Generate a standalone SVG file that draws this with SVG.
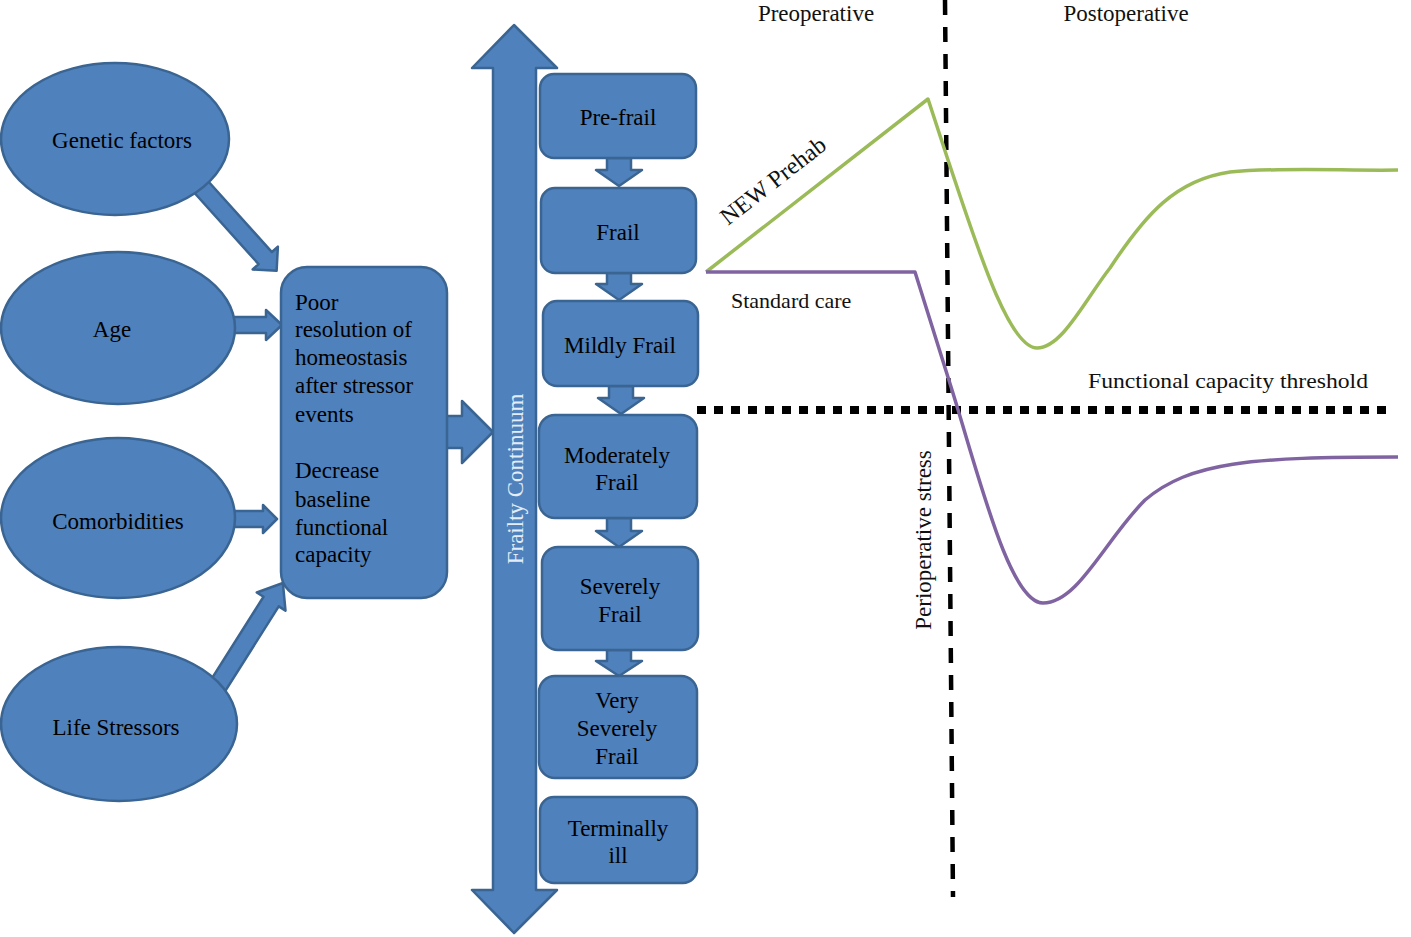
<svg xmlns="http://www.w3.org/2000/svg" width="1411" height="937" viewBox="0 0 1411 937">
<style>
.shape{fill:#4F81BD;stroke:#3A6491;stroke-width:2.5;stroke-linejoin:round}
.t{font-family:"Liberation Serif","Times New Roman",serif;font-size:23px;fill:#000}
.tc{text-anchor:middle}
.lbl{font-family:"Liberation Serif","Times New Roman",serif;font-size:22px;fill:#111}
</style>
<rect width="1411" height="937" fill="#fff"/>
<g id="connectors">
  <polygon class="shape" transform="translate(199,184.5) rotate(48)" points="0,-9 99,-9 99,-17 116,0 99,17 99,9 0,9"/>
  <polygon class="shape" points="230,317 266,317 266,310 282,325 266,340 266,333 230,333"/>
  <polygon class="shape" points="230,511 263,511 263,505 277,519 263,533 263,527 230,527"/>
  <polygon class="shape" transform="translate(207,703) rotate(-57.7)" points="0,-9 120,-9 120,-17 142,0 120,17 120,9 0,9"/>
  <polygon class="shape" points="440,416 462,416 462,401 493,432 462,463 462,448 440,448"/>
  <polygon class="shape" points="607,158 631,158 631,170 642,170 619,186 596,170 607,170"/>
  <polygon class="shape" points="607,273 631,273 631,284 642,284 619,300 596,284 607,284"/>
  <polygon class="shape" points="609,386 633,386 633,398 644,398 621,414 598,398 609,398"/>
  <polygon class="shape" points="607,518 631,518 631,531 642,531 619,547 596,531 607,531"/>
  <polygon class="shape" points="607,650 631,650 631,661 642,661 619,676 596,661 607,661"/>
</g>
<g id="genetic"><ellipse class="shape" cx="115" cy="139" rx="114" ry="76"/><text class="t tc" x="122" y="148">Genetic factors</text></g>
<g id="age"><ellipse class="shape" cx="118" cy="328" rx="117" ry="76"/><text class="t tc" x="112" y="337">Age</text></g>
<g id="comorbidities"><ellipse class="shape" cx="118" cy="518" rx="117" ry="80"/><text class="t tc" x="118" y="529">Comorbidities</text></g>
<g id="stressors"><ellipse class="shape" cx="119" cy="724" rx="118" ry="77"/><text class="t tc" x="116" y="735">Life Stressors</text></g>
<g id="homeostasis">
  <rect class="shape" x="281" y="267" width="166" height="331" rx="26"/>
  <text class="t" x="295"><tspan x="295" y="310">Poor</tspan><tspan x="295" y="337">resolution of</tspan><tspan x="295" y="365">homeostasis</tspan><tspan x="295" y="393">after stressor</tspan><tspan x="295" y="422">events</tspan><tspan x="295" y="478">Decrease</tspan><tspan x="295" y="507">baseline</tspan><tspan x="295" y="535">functional</tspan><tspan x="295" y="562">capacity</tspan></text>
</g>
<g id="continuum">
  <polygon class="shape" points="514,25 557,68 536,68 536,890 557,890 514,933 472,890 493,890 493,68 472,68"/>
  <text class="t tc" style="fill:#e4ecf7" transform="translate(523,479) rotate(-90)">Frailty Continuum</text>
</g>
<g id="prefrail"><rect class="shape" x="540" y="74" width="156" height="84" rx="14"/><text class="t tc" x="618" y="125">Pre-frail</text></g>
<g id="frail"><rect class="shape" x="541" y="188" width="155" height="85" rx="14"/><text class="t tc" x="618" y="240">Frail</text></g>
<g id="mildly"><rect class="shape" x="543" y="301" width="155" height="85" rx="14"/><text class="t tc" x="620" y="353">Mildly Frail</text></g>
<g id="moderately"><rect class="shape" x="539" y="415" width="158" height="103" rx="16"/><text class="t tc"><tspan x="617" y="463">Moderately</tspan><tspan x="617" y="490">Frail</tspan></text></g>
<g id="severely"><rect class="shape" x="542" y="547" width="156" height="103" rx="16"/><text class="t tc"><tspan x="620" y="594">Severely</tspan><tspan x="620" y="622">Frail</tspan></text></g>
<g id="verysevere"><rect class="shape" x="539" y="676" width="158" height="102" rx="16"/><text class="t tc"><tspan x="617" y="708">Very</tspan><tspan x="617" y="736">Severely</tspan><tspan x="617" y="764">Frail</tspan></text></g>
<g id="terminal"><rect class="shape" x="540" y="797" width="157" height="86" rx="14"/><text class="t tc"><tspan x="618" y="836">Terminally</tspan><tspan x="618" y="863">ill</tspan></text></g>
<g id="chart">
  <line x1="945" y1="0" x2="953" y2="897" stroke="#000" stroke-width="4.5" stroke-dasharray="15 12"/>
  <line x1="697" y1="410" x2="1394" y2="410" stroke="#000" stroke-width="8" stroke-dasharray="9 8"/>
  <path d="M706,272 L928,99 L948,160 C975,240 1008,348 1037,348 C1062,348 1085,300 1110,268 C1145,215 1175,180 1230,172 C1280,167 1350,171 1398,170" fill="none" stroke="#9BBB59" stroke-width="3.5" stroke-linejoin="round"/>
  <path d="M706,272 L915,272 L952,390 C980,480 1010,603 1043,603 C1078,603 1105,540 1145,500 C1190,462 1250,457 1398,457" fill="none" stroke="#8064A2" stroke-width="3.5" stroke-linejoin="round"/>
  <text class="lbl tc" x="816" y="21" style="font-size:23px">Preoperative</text>
  <text class="lbl tc" x="1126" y="21" style="font-size:23px">Postoperative</text>
  <text class="lbl tc" transform="translate(778,187) rotate(-38)" style="font-size:24px">NEW Prehab</text>
  <text class="lbl" x="731" y="308">Standard care</text>
  <text class="lbl tc" x="1228" y="388" textLength="280" lengthAdjust="spacingAndGlyphs">Functional capacity threshold</text>
  <text class="lbl tc" transform="translate(931,540) rotate(-90)" style="font-size:23px">Perioperative stress</text>
</g>
</svg>
